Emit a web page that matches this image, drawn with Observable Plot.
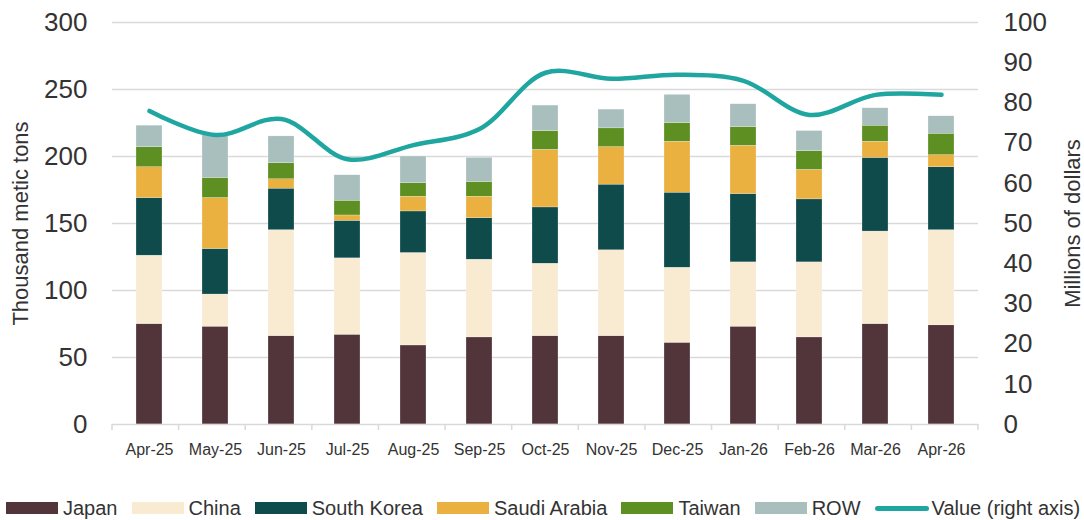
<!DOCTYPE html>
<html>
<head>
<meta charset="utf-8">
<script src="https://cdn.jsdelivr.net/npm/d3@7"></script>
<script src="https://cdn.jsdelivr.net/npm/@observablehq/plot@0.6"></script>
<style>
  html, body { margin: 0; padding: 0; background: #fff; }
  body { width: 1084px; height: 520px; position: relative; overflow: hidden; font-family: "Liberation Sans", Arial, sans-serif; }
  #legend { position: absolute; left: 6px; top: 497px; height: 22px; display: flex; align-items: center; font-size: 20px; color: #333; white-space: nowrap; }
  .item { display: flex; align-items: center; margin-right: 14px; }
  .sw { width: 52px; height: 12px; margin-right: 5px; }
  .ln { width: 54px; height: 5px; border-radius: 3px; margin-right: 3px; }
</style>
</head>
<body>
<div id="chart"></div>
<div id="legend"></div>
<script>
const months = ["Apr-25","May-25","Jun-25","Jul-25","Aug-25","Sep-25","Oct-25","Nov-25","Dec-25","Jan-26","Feb-26","Mar-26","Apr-26"];
const seriesNames = ["Japan","China","South Korea","Saudi Arabia","Taiwan","ROW"];
const japan       = [75,73,66,67,59,65,66,66,61,73,65,75,74];
const china       = [51,24,79,57,69,58,54,64,56,48,56,69,71];
const southKorea  = [43,34,31,28,31,31,42,49,56,51,47,55,47];
const saudiArabia = [23,38, 7, 4,11,16,43,28,38,36,22,12, 9];
const taiwan      = [15,15,12,11,10,11,14,14,14,14,14,12,16];
const row         = [16,32,20,19,20,18,19,14,21,17,15,13,13];
const valueMillions = [78,72,76,66,69.5,73.5,87.5,86,87,85.5,77,82,82];
const leftTicks = [0,50,100,150,200,250,300];
const rightTicks = [0,10,20,30,40,50,60,70,80,90,100];
const colors = ["#52353b","#f9ebd2","#0f4b4b","#eab141","#5d8f22","#a8bfbe"];
const lineColor = "#20a6a0";

const seriesValues = [japan, china, southKorea, saudiArabia, taiwan, row];
const barData = [];
seriesNames.forEach((s, i) => months.forEach((m, j) => barData.push({month: m, series: s, value: seriesValues[i][j]})));
const lineData = months.map((m, j) => ({month: m, value: valueMillions[j]}));
const ratio = 300 / 100; // right axis 0–100 maps onto left axis 0–300

function bandTicks(index, scales, values, dims) {
  const g = d3.create("svg:g");
  const n = months.length;
  const x0 = dims.marginLeft, x1 = dims.width - dims.marginRight;
  const y0 = dims.height - dims.marginBottom;
  const step = (x1 - x0) / n;
  for (let i = 0; i <= n; i++) {
    g.append("line").attr("x1", x0 + i * step).attr("x2", x0 + i * step)
      .attr("y1", y0).attr("y2", y0 + 6).attr("stroke", "#d9d9d9").attr("stroke-width", 1.5);
  }
  return g.node();
}

const chart = Plot.plot({
  width: 1084,
  height: 488,
  marginLeft: 112,
  marginRight: 106,
  marginTop: 22,
  marginBottom: 64,
  style: {fontFamily: "'Liberation Sans', Arial, sans-serif", color: "#333", background: "#fff"},
  x: {type: "band", domain: months, paddingInner: 0.6, paddingOuter: 0.3, label: null},
  y: {domain: [0, 300], label: null},
  color: {domain: seriesNames, range: colors},
  marks: [
    Plot.gridY(leftTicks.filter(d => d > 0), {stroke: "#d9d9d9", strokeOpacity: 1, strokeWidth: 1.5}),
    Plot.barY(barData, {x: "month", y: "value", fill: "series", stroke: "#ffffff", strokeWidth: 0.4, strokeOpacity: 0.6}),
    Plot.ruleY([0], {stroke: "#d9d9d9", strokeWidth: 1.5}),
    bandTicks,
    Plot.line(lineData, {x: "month", y: d => d.value * ratio, stroke: lineColor, strokeWidth: 4.5, curve: "catmull-rom"}),
    Plot.axisX({tickSize: 0, tickPadding: 19, fontSize: 16, label: null}),
    Plot.axisY({anchor: "left", ticks: leftTicks, tickSize: 0, tickPadding: 25, fontSize: 26, label: null}),
    Plot.axisY({anchor: "right", ticks: rightTicks.map(d => d * ratio), tickFormat: d => Math.round(d / ratio), tickSize: 0, tickPadding: 25, fontSize: 26, label: null}),
    Plot.text(["Thousand metic tons"], {frameAnchor: "left", textAnchor: "middle", text: d => d, rotate: -90, dx: -92, fontSize: 22, fill: "#333"}),
    Plot.text(["Millions of dollars"], {frameAnchor: "right", textAnchor: "middle", text: d => d, rotate: -90, dx: 94, fontSize: 22, fill: "#333"})
  ]
});
document.getElementById("chart").appendChild(chart);

const legend = document.getElementById("legend");
seriesNames.forEach((s, i) => {
  const it = document.createElement("div"); it.className = "item";
  const sw = document.createElement("div"); sw.className = "sw"; sw.style.background = colors[i];
  const tx = document.createElement("span"); tx.textContent = s;
  it.appendChild(sw); it.appendChild(tx); legend.appendChild(it);
});
{
  const it = document.createElement("div"); it.className = "item";
  const sw = document.createElement("div"); sw.className = "ln"; sw.style.background = lineColor;
  const tx = document.createElement("span"); tx.textContent = "Value (right axis)";
  it.appendChild(sw); it.appendChild(tx); legend.appendChild(it);
}
</script>
</body>
</html>
